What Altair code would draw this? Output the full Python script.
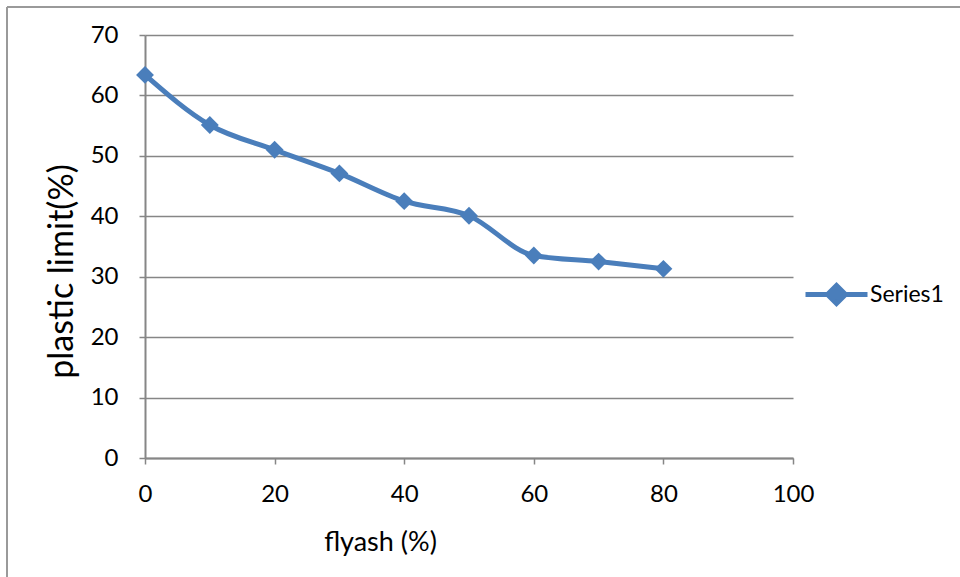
import altair as alt
import pandas as pd

flyash = [0, 10, 20, 30, 40, 50, 60, 70, 80]
plastic_limit = [63.4, 55.1, 51.0, 47.1, 42.5, 40.1, 33.5, 32.5, 31.3]
series = ["Series1"] * len(flyash)

df = pd.DataFrame({"flyash": flyash, "plastic_limit": plastic_limit, "series": series})

FONT = "Lato"
BLUE = "#4A7EBB"
GRAY = "#868686"

x_enc = alt.X(
    "flyash:Q",
    scale=alt.Scale(domain=[0, 100], nice=False, zero=True),
    axis=alt.Axis(
        values=[0, 20, 40, 60, 80, 100],
        title="flyash (%)",
        grid=False,
        labelFlush=False, labelOverlap=False,
        domainColor=GRAY, domainWidth=2,
        tickColor=GRAY, tickSize=6, tickWidth=1.5,
        labelPadding=18, labelFontSize=24, labelFont=FONT, labelColor="#000",
        titleFontSize=27, titleFont=FONT, titleFontWeight="normal", titleColor="#000",
        titleX=235, titleY=84, titleAlign="center", titleBaseline="middle",
    ),
)
y_enc = alt.Y(
    "plastic_limit:Q",
    scale=alt.Scale(domain=[0, 70], nice=False),
    axis=alt.Axis(
        values=[0, 10, 20, 30, 40, 50, 60, 70],
        title="plastic limit(%)",
        grid=True, gridColor=GRAY, gridWidth=1.5,
        labelFlush=False, labelOverlap=False,
        domainColor=GRAY, domainWidth=2,
        tickColor=GRAY, tickSize=6, tickWidth=1.5,
        labelPadding=21, labelFontSize=24, labelFont=FONT, labelColor="#000",
        titleFontSize=34, titleFont=FONT, titleFontWeight="normal", titleColor="#000",
        titleX=-83, titleY=236, titleAngle=-90, titleAlign="center", titleBaseline="middle",
    ),
)

color_enc = alt.Color(
    "series:N",
    scale=alt.Scale(domain=["Series1"], range=[BLUE]),
    legend=alt.Legend(
        title=None,
        orient="none",
        legendX=658,
        legendY=226,
        padding=0,
        symbolType="M-1,0L1,0M0,-0.29L0.29,0L0,0.29L-0.29,0Z",
        symbolSize=3844,
        symbolStrokeWidth=5,
        symbolFillColor=BLUE,
        symbolStrokeColor=BLUE,
        labelFontSize=23,
        labelFont=FONT,
        labelColor="#000",
        labelOffset=0,
    ),
)

line = alt.Chart(df).mark_line(
    strokeWidth=5, interpolate="monotone"
).encode(x=x_enc, y=y_enc, color=color_enc)

points = alt.Chart(df).mark_point(
    shape="diamond", size=320, filled=True, opacity=1
).encode(x="flyash:Q", y="plastic_limit:Q", color=alt.Color("series:N", legend=None, scale=alt.Scale(domain=["Series1"], range=[BLUE])))

border_top = alt.Chart(df).mark_rule(color="#9a9a9a", strokeWidth=2).encode(
    x=alt.value(-138), x2=alt.value(820), y=alt.value(-28)
)
border_left = alt.Chart(df).mark_rule(color="#9a9a9a", strokeWidth=2).encode(
    x=alt.value(-138), y=alt.value(-28), y2=alt.value(560)
)

chart = alt.layer(border_top, border_left, line, points).properties(
    width=648,
    height=423,
    autosize=alt.AutoSizeParams(type="none"),
    padding={"left": 145, "top": 35, "right": 167, "bottom": 119},
    background="white",
).configure_view(stroke=None)

chart.save("out.html", embed_options={"renderer": "svg", "actions": False})
